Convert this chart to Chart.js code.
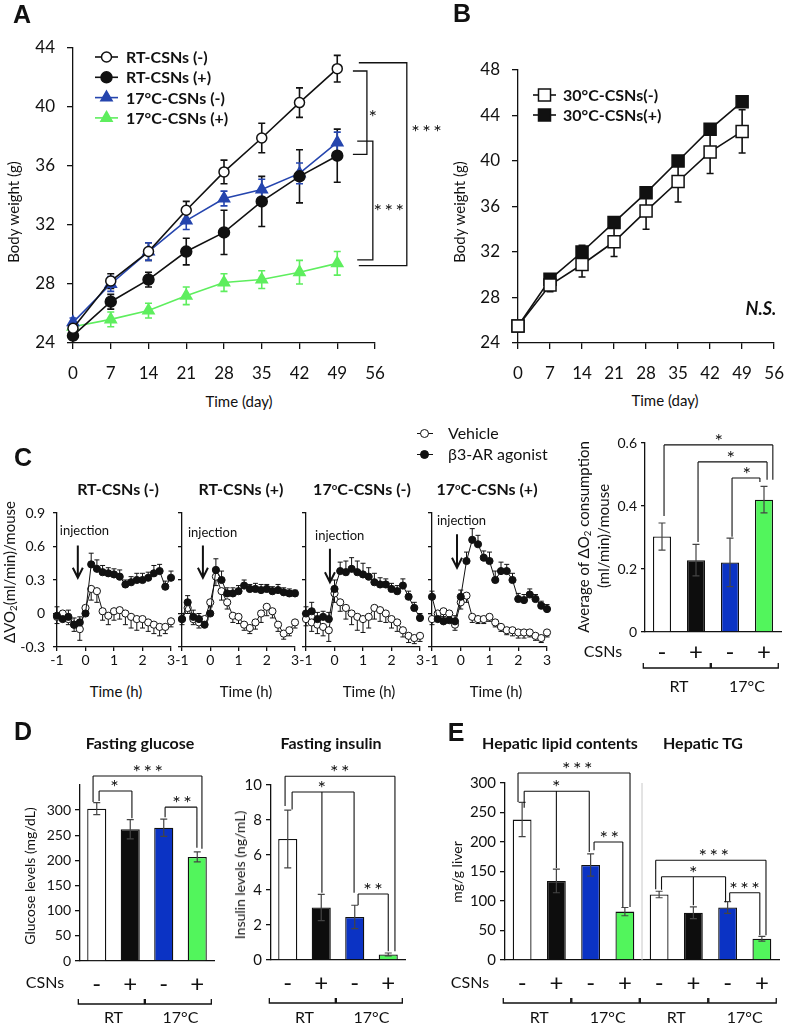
<!DOCTYPE html>
<html>
<head>
<meta charset="utf-8">
<script src="https://cdn.jsdelivr.net/npm/chart.js@4.4.1/dist/chart.umd.min.js"></script>
<style>
  body { margin: 0; width: 798px; height: 1025px; position: relative; overflow: hidden; background: #fff;
         font-family: Lato, "Open Sans", sans-serif; color: #111; }
  canvas { position: absolute; }
  .t { position: absolute; transform: translate(-50%, -50%); white-space: nowrap; line-height: 1; }
  .tl { position: absolute; transform: translate(0, -50%); white-space: nowrap; line-height: 1; }
  .r { transform: translate(-50%, -50%) rotate(-90deg); }
  .L { font: bold 25px "Liberation Sans", Arial, sans-serif; }
  .b { font-weight: bold; }
  sub { font-size: 0.65em; vertical-align: -0.25em; line-height: 0; }
  sup { font-size: 0.6em; vertical-align: 0.5em; line-height: 0; }
  .sym { position: absolute; height: 0; border-top: 1.3px solid #111; }
  .dot { position: absolute; width: 9px; height: 9px; border: 1.3px solid #111; border-radius: 50%; box-sizing: border-box; }
</style>
</head>
<body>
<div id="charts"></div>

<div class="t L" style="left:22px;top:14px">A</div>
<div class="t L" style="left:462px;top:13px">B</div>
<div class="t L" style="left:23px;top:457px">C</div>
<div class="t L" style="left:23px;top:731px">D</div>
<div class="t L" style="left:456px;top:732px">E</div>

<div class="t r" style="left:13px;top:212px;font-size:15px">Body weight (g)</div>
<div class="t r" style="left:459px;top:212px;font-size:15px">Body weight (g)</div>
<div class="t" style="left:239px;top:401px;font-size:15px">Time (day)</div>
<div class="t" style="left:665px;top:400px;font-size:15px">Time (day)</div>
<div class="t b" style="left:761px;top:308px;font-size:18px;font-style:italic">N.S.</div>

<div class="sym" style="left:417px;top:433px;width:16px"></div>
<div class="dot" style="left:420px;top:428.5px;background:#fff"></div>
<div class="tl" style="left:448px;top:433px;font-size:16px">Vehicle</div>
<div class="sym" style="left:417px;top:454px;width:16px"></div>
<div class="dot" style="left:420px;top:449.5px;background:#111"></div>
<div class="tl" style="left:448px;top:454px;font-size:16px">β3-AR agonist</div>

<div class="t b" style="left:118px;top:489px;font-size:16px">RT-CSNs (-)</div>
<div class="t b" style="left:241px;top:489px;font-size:16px">RT-CSNs (+)</div>
<div class="t b" style="left:362px;top:489px;font-size:16px">17<sup>o</sup>C-CSNs (-)</div>
<div class="t b" style="left:487px;top:489px;font-size:16px">17<sup>o</sup>C-CSNs (+)</div>
<div class="t" style="left:116px;top:691px;font-size:15px">Time (h)</div>
<div class="t" style="left:246px;top:691px;font-size:15px">Time (h)</div>
<div class="t" style="left:369px;top:691px;font-size:15px">Time (h)</div>
<div class="t" style="left:496px;top:691px;font-size:15px">Time (h)</div>
<div class="t r" style="left:9px;top:572px;font-size:15px">ΔVO<sub>2</sub>(ml/min)/mouse</div>
<div class="t r" style="left:583px;top:537px;font-size:15px">Average of ΔO<sub>2</sub> consumption</div>
<div class="t r" style="left:603px;top:536px;font-size:15px">(ml/min)/mouse</div>
<div class="t" style="left:603px;top:651px;font-size:16px">CSNs</div>

<div class="t b" style="left:140px;top:743px;font-size:16px">Fasting glucose</div>
<div class="t b" style="left:331px;top:743px;font-size:16px">Fasting insulin</div>
<div class="t r" style="left:30px;top:876px;font-size:14px">Glucose levels (mg/dL)</div>
<div class="t r" style="left:240px;top:875px;font-size:14px">Insulin levels (ng/mL)</div>
<div class="t" style="left:45px;top:982px;font-size:16px">CSNs</div>

<div class="t b" style="left:560px;top:743px;font-size:16px">Hepatic lipid contents</div>
<div class="t b" style="left:703px;top:743px;font-size:16px">Hepatic TG</div>
<div class="t r" style="left:457px;top:872px;font-size:14px">mg/g liver</div>
<div class="t" style="left:470px;top:982px;font-size:16px">CSNs</div>

<script>
// ---------- A / B: body weight ----------
const days = [0, 7, 14, 21, 28, 35, 42, 49];
const dayTicks = [0, 7, 14, 21, 28, 35, 42, 49, 56];
const weightTicksA = [24, 28, 32, 36, 40, 44];
const weightTicksB = [24, 28, 32, 36, 40, 44, 48];
const seriesA = ['RT-CSNs (-)', 'RT-CSNs (+)', '17°C-CSNs (-)', '17°C-CSNs (+)'];
const rtMinus = [25.0, 28.2, 30.2, 33.0, 35.6, 37.9, 40.3, 42.6];
const rtMinusErr = [0.4, 0.5, 0.6, 0.6, 0.8, 1.0, 1.0, 0.9];
const rtPlus = [24.5, 26.8, 28.3, 30.2, 31.5, 33.6, 35.3, 36.7];
const rtPlusErr = [0.3, 0.5, 0.5, 0.9, 1.5, 1.7, 1.8, 1.8];
const c17Minus = [25.4, 28.0, 30.2, 32.3, 33.8, 34.4, 35.5, 37.6];
const c17MinusErr = [0.3, 0.5, 0.6, 0.6, 0.5, 0.7, 0.7, 0.7];
const c17Plus = [25.1, 25.6, 26.2, 27.2, 28.1, 28.3, 28.8, 29.4];
const c17PlusErr = [0.3, 0.5, 0.5, 0.6, 0.6, 0.6, 0.8, 0.8];

const seriesB = ['30°C-CSNs(-)', '30°C-CSNs(+)'];
const c30Minus = [25.5, 29.1, 30.9, 32.9, 35.6, 38.2, 40.8, 42.6];
const c30MinusErr = [0.3, 0.6, 1.1, 1.3, 1.6, 1.8, 1.9, 1.9];
const c30Plus = [25.5, 29.6, 32.0, 34.6, 37.2, 40.0, 42.8, 45.2];
const c30PlusErr = [0.3, 0.4, 0.6, 0.5, 0.4, 0.3, 0.4, 0.2];

// significance brackets at the right of A (days / grams)
const bracketsA = [
  { x0: 51.9, x1: 54.5, top: 42.44, bottom: 36.79, tx: 55.8, ty: 39.6, text: '*' },
  { x0: 52.7, x1: 55.6, top: 37.69, bottom: 29.63, tx: 58.8, ty: 33.2, text: '***' },
  { x0: 53.0, x1: 61.9, top: 43.0, bottom: 29.24, tx: 65.8, ty: 38.6, text: '***' }
];

// ---------- C: VO2 time course ----------
const hours = [-1, -0.8, -0.6, -0.4, -0.2, 0, 0.2, 0.4, 0.6, 0.8, 1, 1.2, 1.4, 1.6, 1.8, 2, 2.2, 2.4, 2.6, 2.8, 3];
const hourTicks = [-1, 0, 1, 2, 3];
const vo2Ticks = [-0.3, 0, 0.3, 0.6, 0.9];
const injectionLabel = 'injection';

const agonistRTm = [-0.02, -0.05, -0.03, -0.10, -0.08, 0.00, 0.44, 0.40, 0.37, 0.36, 0.35, 0.33, 0.26, 0.28, 0.30, 0.30, 0.32, 0.36, 0.38, 0.24, 0.32];
const agonistRTmErr = [0.08, 0.07, 0.06, 0.06, 0.05, 0.05, 0.10, 0.08, 0.06, 0.05, 0.05, 0.06, 0.04, 0.05, 0.06, 0.06, 0.05, 0.07, 0.06, 0.05, 0.06];
const vehicleRTm = [-0.03, 0.00, -0.05, -0.10, -0.14, 0.05, 0.22, 0.20, 0.02, -0.02, 0.02, 0.03, 0.00, -0.03, -0.05, -0.05, -0.08, -0.10, -0.12, -0.12, -0.07];
const vehicleRTmErr = [0.06, 0.06, 0.05, 0.06, 0.10, 0.06, 0.10, 0.10, 0.08, 0.08, 0.08, 0.08, 0.10, 0.10, 0.10, 0.08, 0.08, 0.08, 0.08, 0.06, 0.05];

const agonistRTp = [-0.05, 0.10, -0.03, -0.05, -0.10, 0.00, 0.39, 0.30, 0.18, 0.18, 0.20, 0.25, 0.22, 0.22, 0.21, 0.22, 0.20, 0.21, 0.19, 0.18, 0.18];
const agonistRTpErr = [0.05, 0.06, 0.06, 0.05, 0.05, 0.06, 0.10, 0.08, 0.05, 0.05, 0.05, 0.05, 0.04, 0.05, 0.05, 0.04, 0.04, 0.05, 0.04, 0.04, 0.03];
const vehicleRTp = [-0.05, 0.05, -0.05, -0.08, -0.05, 0.10, 0.33, 0.20, 0.10, -0.02, -0.03, -0.10, -0.13, -0.08, 0.00, 0.06, 0.02, -0.10, -0.18, -0.15, -0.08];
const vehicleRTpErr = [0.05, 0.05, 0.05, 0.05, 0.05, 0.08, 0.08, 0.08, 0.06, 0.06, 0.06, 0.05, 0.05, 0.06, 0.08, 0.08, 0.06, 0.06, 0.05, 0.05, 0.05];

const agonist17m = [0.00, 0.02, -0.05, -0.03, -0.05, 0.22, 0.38, 0.37, 0.40, 0.37, 0.35, 0.33, 0.28, 0.26, 0.26, 0.22, 0.20, 0.25, 0.15, 0.05, -0.04];
const agonist17mErr = [0.06, 0.08, 0.06, 0.05, 0.06, 0.08, 0.08, 0.10, 0.10, 0.10, 0.10, 0.08, 0.08, 0.06, 0.05, 0.05, 0.05, 0.06, 0.05, 0.05, 0.04];
const vehicle17m = [-0.05, -0.08, -0.10, -0.12, -0.15, 0.18, 0.10, 0.05, 0.00, -0.03, -0.05, -0.03, 0.05, 0.03, 0.00, -0.05, -0.08, -0.15, -0.20, -0.22, -0.20];
const vehicle17mErr = [0.06, 0.08, 0.08, 0.08, 0.10, 0.08, 0.08, 0.10, 0.10, 0.12, 0.12, 0.10, 0.10, 0.10, 0.08, 0.08, 0.08, 0.06, 0.06, 0.05, 0.05];

const agonist17p = [0.15, -0.05, -0.07, -0.06, -0.07, 0.15, 0.47, 0.66, 0.62, 0.50, 0.47, 0.30, 0.38, 0.38, 0.30, 0.13, 0.12, 0.17, 0.13, 0.07, 0.04];
const agonist17pErr = [0.05, 0.05, 0.04, 0.04, 0.05, 0.06, 0.08, 0.10, 0.08, 0.06, 0.08, 0.08, 0.08, 0.06, 0.06, 0.05, 0.05, 0.05, 0.04, 0.04, 0.04];
const vehicle17p = [-0.05, 0.00, 0.02, 0.00, -0.10, 0.10, 0.16, -0.03, -0.05, -0.05, -0.03, -0.08, -0.12, -0.15, -0.15, -0.17, -0.17, -0.17, -0.20, -0.22, -0.17];
const vehicle17pErr = [0.05, 0.05, 0.05, 0.05, 0.05, 0.06, 0.06, 0.05, 0.04, 0.04, 0.04, 0.04, 0.04, 0.04, 0.05, 0.05, 0.05, 0.04, 0.04, 0.04, 0.04];

// arrow (t, from, to) and label position (tt, tv) per sub panel
const injections = [
  { t: -0.27, from: 0.61, to: 0.32, tt: -0.9, tv: 0.74 },
  { t: -0.26, from: 0.61, to: 0.32, tt: -0.79, tv: 0.72 },
  { t: -0.16, from: 0.58, to: 0.28, tt: -0.68, tv: 0.70 },
  { t: -0.13, from: 0.71, to: 0.41, tt: -0.83, tv: 0.83 }
];

// C right: average O2
const csnsSigns = ['-', '+', '-', '+'];
const tempGroups = ['RT', '17°C'];
const o2Ticks = [0, 0.2, 0.4, 0.6];
const o2Avg = [0.303, 0.228, 0.221, 0.420];
const o2Err = [0.043, 0.050, 0.077, 0.042];
const bracketsO2 = [
  { legs: [[0.06, 0.368], [3.26, 0.483]], y: 0.594, at: 1.68, text: '*' },
  { legs: [[1.06, 0.286], [3.09, 0.483]], y: 0.540, at: 2.03, text: '*' },
  { legs: [[2.06, 0.302], [2.88, 0.476]], y: 0.489, at: 2.50, text: '*' }
];

// ---------- D ----------
const glucoseTicks = [0, 50, 100, 150, 200, 250, 300];
const glucose = [303, 262, 265, 207];
const glucoseErr = [12, 19, 17, 10];
const bracketsGlucose = [
  { legs: [[-0.11, 316], [3.14, 223]], y: 368, at: 1.53, text: '***' },
  { legs: [[0.07, 318], [1.05, 284]], y: 338, at: 0.54, text: '*' },
  { legs: [[2.04, 286], [2.99, 225]], y: 306, at: 2.55, text: '**' }
];
const insulinTicks = [0, 2, 4, 6, 8, 10];
const insulin = [6.92, 3.0, 2.46, 0.32];
const insulinErr = [1.65, 0.75, 0.67, 0.08];
const bracketsInsulin = [
  { legs: [[-0.08, 8.8], [3.2, 0.5]], y: 10.5, at: 1.56, text: '**' },
  { legs: [[0.13, 8.6], [1.02, 3.85], [1.98, 3.85]], y: 9.6, at: 1.02, text: '*' },
  { legs: [[2.1, 3.15], [3.0, 0.5]], y: 3.77, at: 2.55, text: '**' }
];

// ---------- E ----------
const liverTicks = [0, 50, 100, 150, 200, 250, 300];
const lipid = [238, 134, 161, 82];
const lipidErr = [29, 20, 19, 7];
const tg = [111, 80, 89, 36];
const tgErr = [5.5, 10, 10, 4];
const bracketsLiver = [
  { legs: [[-0.12, 268], [3.15, 90]], y: 317, at: 1.62, text: '***' },
  { legs: [[0.06, 258], [1.0, 156], [1.96, 183]], y: 286, at: 1.0, text: '*' },
  { legs: [[2.1, 186], [2.94, 90]], y: 200, at: 2.55, text: '**' },
  { legs: [[3.9, 120], [7.12, 42]], y: 169, at: 5.6, text: '***' },
  { legs: [[4.07, 119], [5.0, 93], [5.94, 98]], y: 141, at: 5.0, text: '*' },
  { legs: [[6.06, 100], [6.94, 42]], y: 114, at: 6.5, text: '***' }
];

const barColors = ['#ffffff', '#0d0d0d', '#0b33c4', '#52f55c'];

// ---------- chart setup ----------
Chart.defaults.font.family = 'Lato, "Open Sans", sans-serif';
Chart.defaults.color = '#111';
Chart.defaults.animation = false;
Chart.defaults.events = [];
Chart.defaults.plugins.legend.display = false;
Chart.defaults.plugins.tooltip.enabled = false;

const extras = {};

function drawErrors(chart) {
  const ctx = chart.ctx, ys = chart.scales.y;
  chart.data.datasets.forEach((ds, di) => {
    if (!ds.errors) return;
    const pts = chart.getDatasetMeta(di).data;
    ctx.save();
    ctx.strokeStyle = ds.errColor || ds.borderColor;
    ctx.lineWidth = ds.errWidth || 1.5;
    pts.forEach((p, i) => {
      const raw = ds.data[i];
      const v = typeof raw === 'object' ? raw.y : raw;
      const e = ds.errors[i];
      const up = ds.errDir !== 'down', dn = ds.errDir !== 'up';
      const yt = ys.getPixelForValue(up ? v + e : v);
      const yb = ys.getPixelForValue(dn ? v - e : v);
      const c = ds.errCap || 3;
      ctx.beginPath();
      ctx.moveTo(p.x, yt); ctx.lineTo(p.x, yb);
      if (up) { ctx.moveTo(p.x - c, yt); ctx.lineTo(p.x + c, yt); }
      if (dn) { ctx.moveTo(p.x - c, yb); ctx.lineTo(p.x + c, yb); }
      ctx.stroke();
    });
    ctx.restore();
  });
}

function starFont(ctx) {
  ctx.font = '20px Lato';
  ctx.textAlign = 'center';
  ctx.textBaseline = 'alphabetic';
  ctx.letterSpacing = '2.5px';
}

function drawLegend(chart, L) {
  const ctx = chart.ctx, ox = chart.canvas.offsetLeft, oy = chart.canvas.offsetTop;
  ctx.save();
  ctx.font = 'bold 16px Lato';
  ctx.textBaseline = 'middle';
  ctx.textAlign = 'left';
  chart.data.datasets.forEach((ds, i) => {
    const y = L.y + i * L.dy - oy, x0 = L.x - ox;
    ctx.strokeStyle = ds.borderColor; ctx.lineWidth = ds.borderWidth;
    ctx.beginPath(); ctx.moveTo(x0, y); ctx.lineTo(x0 + L.w, y); ctx.stroke();
    ctx.fillStyle = ds.pointBackgroundColor; ctx.strokeStyle = ds.pointBorderColor; ctx.lineWidth = ds.pointBorderWidth;
    Chart.helpers.drawPoint(ctx, { pointStyle: ds.pointStyle, rotation: 0, radius: ds.pointRadius, borderWidth: ds.pointBorderWidth }, x0 + L.w / 2, y);
    ctx.fillStyle = '#111';
    ctx.fillText(ds.label, L.tx - ox, y + 1);
  });
  ctx.restore();
}

function drawSide(chart, list) {
  const ctx = chart.ctx, xs = chart.scales.x, ys = chart.scales.y;
  ctx.save();
  ctx.strokeStyle = '#111'; ctx.fillStyle = '#111'; ctx.lineWidth = 1.3;
  starFont(ctx);
  list.forEach(b => {
    const x0 = xs.getPixelForValue(b.x0), x1 = xs.getPixelForValue(b.x1);
    const yt = ys.getPixelForValue(b.top), yb = ys.getPixelForValue(b.bottom);
    ctx.beginPath();
    ctx.moveTo(x0, yt); ctx.lineTo(x1, yt); ctx.lineTo(x1, yb); ctx.lineTo(x0, yb);
    ctx.stroke();
    ctx.fillText(b.text, xs.getPixelForValue(b.tx), ys.getPixelForValue(b.ty) + 11);
  });
  ctx.restore();
}

function drawBrackets(chart, list) {
  const ctx = chart.ctx, xs = chart.scales.x, ys = chart.scales.y;
  ctx.save();
  ctx.strokeStyle = '#111'; ctx.fillStyle = '#111'; ctx.lineWidth = 1.1;
  starFont(ctx);
  list.forEach(b => {
    const y = ys.getPixelForValue(b.y);
    const px = b.legs.map(l => xs.getPixelForValue(l[0]));
    ctx.beginPath();
    ctx.moveTo(px[0], y); ctx.lineTo(px[px.length - 1], y);
    b.legs.forEach((l, k) => { ctx.moveTo(px[k], y); ctx.lineTo(px[k], ys.getPixelForValue(l[1])); });
    ctx.stroke();
    ctx.fillText(b.text, xs.getPixelForValue(b.at) + 1, y + 3);
  });
  ctx.restore();
}

function drawGroups(chart, g) {
  const ctx = chart.ctx, xs = chart.scales.x, bottom = chart.chartArea.bottom;
  const y = bottom + g.lineOff;
  ctx.save();
  ctx.strokeStyle = '#111'; ctx.fillStyle = '#111'; ctx.lineWidth = 1.3;
  ctx.font = '16px Lato'; ctx.textAlign = 'center'; ctx.textBaseline = 'middle';
  g.list.forEach(it => {
    const a = xs.getPixelForValue(it.from - 0.55), b = xs.getPixelForValue(it.to + 0.42);
    ctx.beginPath();
    ctx.moveTo(a, y - 5); ctx.lineTo(a, y); ctx.lineTo(b, y); ctx.lineTo(b, y - 5);
    ctx.stroke();
    ctx.fillText(it.text, xs.getPixelForValue((it.from + it.to) / 2), bottom + g.textOff);
  });
  ctx.restore();
}

function drawInjection(chart, o) {
  const ctx = chart.ctx, xs = chart.scales.x, ys = chart.scales.y;
  const x = xs.getPixelForValue(o.t), y0 = ys.getPixelForValue(o.from), y1 = ys.getPixelForValue(o.to);
  ctx.save();
  ctx.strokeStyle = '#111'; ctx.fillStyle = '#111'; ctx.lineWidth = 2;
  ctx.beginPath();
  ctx.moveTo(x, y0); ctx.lineTo(x, y1);
  ctx.moveTo(x - 5, y1 - 10); ctx.lineTo(x, y1); ctx.lineTo(x + 5, y1 - 10);
  ctx.stroke();
  ctx.font = '13px Lato'; ctx.textAlign = 'left'; ctx.textBaseline = 'middle';
  ctx.fillText(injectionLabel, xs.getPixelForValue(o.tt), ys.getPixelForValue(o.tv));
  ctx.restore();
}

function drawSep(chart, at) {
  const ctx = chart.ctx, x = chart.scales.x.getPixelForValue(at);
  ctx.save();
  ctx.strokeStyle = '#c8c8c8'; ctx.lineWidth = 1;
  ctx.beginPath(); ctx.moveTo(x, chart.chartArea.top); ctx.lineTo(x, chart.chartArea.bottom); ctx.stroke();
  ctx.restore();
}

Chart.register({
  id: 'annotate',
  beforeDatasetsDraw(chart) { if (chart.config.type === 'line') drawErrors(chart); },
  afterDatasetsDraw(chart) { if (chart.config.type === 'bar') drawErrors(chart); },
  afterDraw(chart) {
    const ex = extras[chart.canvas.id];
    if (!ex) return;
    if (ex.sep !== undefined) drawSep(chart, ex.sep);
    if (ex.legend) drawLegend(chart, ex.legend);
    if (ex.side) drawSide(chart, ex.side);
    if (ex.brackets) drawBrackets(chart, ex.brackets);
    if (ex.groups) drawGroups(chart, ex.groups);
    if (ex.injection) drawInjection(chart, ex.injection);
  }
});

// plot = chart area on the page, m = room around it inside the canvas
function makeChart(id, plot, m, config) {
  const cv = document.createElement('canvas');
  cv.id = id;
  const w = plot.r - plot.l + m.l + m.r, h = plot.b - plot.t + m.t + m.b;
  cv.width = w; cv.height = h;
  cv.style.left = (plot.l - m.l) + 'px';
  cv.style.top = (plot.t - m.t) + 'px';
  cv.style.width = w + 'px';
  cv.style.height = h + 'px';
  document.getElementById('charts').appendChild(cv);
  config.options.responsive = false;
  config.options.devicePixelRatio = 1;
  config.options.layout = { padding: { left: 0, top: m.t, right: m.r, bottom: 0 } };
  config.options.scales.x.afterFit = s => { s.height = m.b; };
  config.options.scales.y.afterFit = s => { s.width = m.l; };
  return new Chart(cv, config);
}

function linAxis(min, max, list, size, tickLen, pad, labels) {
  return {
    type: 'linear', min: min, max: max,
    afterBuildTicks: s => { s.ticks = list.map(v => ({ value: v })); },
    border: { display: true, color: '#111', width: 1.3 },
    grid: { drawOnChartArea: false, drawTicks: true, tickLength: tickLen, color: '#111', lineWidth: 1.3 },
    ticks: { display: labels !== false, font: { size: size }, padding: pad, color: '#111' }
  };
}

function catAxis(size, pad) {
  return {
    type: 'category',
    border: { display: true, color: '#111', width: 1.3 },
    grid: { drawOnChartArea: false, drawTicks: false },
    ticks: { font: { size: size }, padding: pad, color: '#111', autoSkip: false, maxRotation: 0 }
  };
}

function pts(xs, ys) { return xs.map((x, i) => ({ x: x, y: ys[i] })); }

function weightSet(label, vals, errs, color, style, radius, fill) {
  return {
    label: label, data: pts(days, vals), errors: errs, errDir: 'both',
    borderColor: color, borderWidth: 1.6, errColor: color, errWidth: 1.6, errCap: 3.5,
    pointStyle: style, pointRadius: radius, pointBackgroundColor: fill,
    pointBorderColor: color, pointBorderWidth: 1.5, clip: false
  };
}

// ---- A ----
extras.chA = { legend: { x: 95, w: 23, tx: 126, y: 57, dy: 20.3 }, side: bracketsA };
makeChart('chA', { l: 73, t: 48, r: 375, b: 343 }, { l: 73, t: 48, r: 70, b: 45 }, {
  type: 'line',
  data: { datasets: [
    weightSet(seriesA[0], rtMinus, rtMinusErr, '#111', 'circle', 5, '#fff'),
    weightSet(seriesA[1], rtPlus, rtPlusErr, '#111', 'circle', 5.5, '#111'),
    weightSet(seriesA[2], c17Minus, c17MinusErr, '#2545ae', 'triangle', 6.5, '#2545ae'),
    weightSet(seriesA[3], c17Plus, c17PlusErr, '#5eee5e', 'triangle', 6.5, '#5eee5e')
  ] },
  options: { scales: { x: linAxis(0, 56, dayTicks, 17, 6, 14), y: linAxis(24, 44, weightTicksA, 17, 6, 12) } }
});

// ---- B ----
extras.chB = { legend: { x: 533, w: 23, tx: 563, y: 95, dy: 20 } };
makeChart('chB', { l: 518, t: 70, r: 788, b: 343 }, { l: 50, t: 70, r: 10, b: 45 }, {
  type: 'line',
  data: { datasets: [
    weightSet(seriesB[0], c30Minus, c30MinusErr, '#111', 'rect', 8.5, '#fff'),
    weightSet(seriesB[1], c30Plus, c30PlusErr, '#111', 'rect', 8.5, '#111')
  ] },
  options: { scales: { x: linAxis(0, 56, dayTicks, 17, 6, 14), y: linAxis(24, 48, weightTicksB, 17, 6, 12) } }
});

// ---- C time courses ----
const subPlots = [[57, 171], [182, 295], [306, 420], [432, 547]];
const agonistSeries = [agonistRTm, agonistRTp, agonist17m, agonist17p];
const agonistErrs = [agonistRTmErr, agonistRTpErr, agonist17mErr, agonist17pErr];
const vehicleSeries = [vehicleRTm, vehicleRTp, vehicle17m, vehicle17p];
const vehicleErrs = [vehicleRTmErr, vehicleRTpErr, vehicle17mErr, vehicle17pErr];

function vo2Set(vals, errs, dir, fill) {
  return {
    data: pts(hours, vals), errors: errs, errDir: dir, errColor: '#111', errWidth: 1, errCap: 2.5,
    borderColor: '#111', borderWidth: 1, pointRadius: 3.6, pointBackgroundColor: fill,
    pointBorderColor: '#111', pointBorderWidth: 1, clip: false
  };
}

subPlots.forEach((lr, k) => {
  extras['chC' + k] = { injection: injections[k] };
  makeChart('chC' + k, { l: lr[0], t: 513, r: lr[1], b: 647 }, { l: k === 0 ? 50 : 12, t: 30, r: 10, b: 25 }, {
    type: 'line',
    data: { datasets: [
      vo2Set(agonistSeries[k], agonistErrs[k], 'up', '#111'),
      vo2Set(vehicleSeries[k], vehicleErrs[k], 'down', '#fff')
    ] },
    options: { scales: {
      x: linAxis(-1, 3, hourTicks, 14, 4, 1),
      y: linAxis(-0.3, 0.9, vo2Ticks, 14, 4, 8, k === 0)
    } }
  });
});

// ---- bar charts ----
function barSet(vals, errs, colors, pct) {
  return {
    data: vals, errors: errs, errDir: 'both', errColor: '#444', errWidth: 1.2, errCap: 3.5,
    backgroundColor: colors, borderColor: '#111', borderWidth: 1.3,
    barPercentage: pct, categoryPercentage: 1
  };
}
const groups4 = [{ from: 0, to: 1, text: tempGroups[0] }, { from: 2, to: 3, text: tempGroups[1] }];
const groups8 = groups4.concat([{ from: 4, to: 5, text: tempGroups[0] }, { from: 6, to: 7, text: tempGroups[1] }]);

extras.chO2 = { brackets: bracketsO2, groups: { list: groups4, lineOff: 36, textOff: 55 } };
makeChart('chO2', { l: 645, t: 443, r: 781, b: 632 }, { l: 40, t: 30, r: 15, b: 65 }, {
  type: 'bar',
  data: { labels: csnsSigns, datasets: [barSet(o2Avg, o2Err, barColors, 0.53)] },
  options: { scales: { x: catAxis(24, 6), y: linAxis(0, 0.6, o2Ticks, 14, 4, 4) } }
});

extras.chGlu = { brackets: bracketsGlucose, groups: { list: groups4, lineOff: 43, textOff: 57 } };
makeChart('chGlu', { l: 80, t: 785, r: 214, b: 961 }, { l: 40, t: 40, r: 10, b: 64 }, {
  type: 'bar',
  data: { labels: csnsSigns, datasets: [barSet(glucose, glucoseErr, barColors, 0.57)] },
  options: { scales: { x: catAxis(24, 9), y: linAxis(0, 350, glucoseTicks, 14, 5, 4) } }
});

extras.chIns = { brackets: bracketsInsulin, groups: { list: groups4, lineOff: 43, textOff: 58 } };
makeChart('chIns', { l: 271, t: 785, r: 405, b: 960 }, { l: 30, t: 40, r: 10, b: 65 }, {
  type: 'bar',
  data: { labels: csnsSigns, datasets: [barSet(insulin, insulinErr, barColors, 0.57)] },
  options: { scales: { x: catAxis(24, 9), y: linAxis(0, 10, insulinTicks, 15, 5, 4) } }
});

extras.chLiv = { sep: 3.5, brackets: bracketsLiver, groups: { list: groups8, lineOff: 43, textOff: 58 } };
makeChart('chLiv', { l: 505, t: 783, r: 779, b: 960 }, { l: 50, t: 40, r: 15, b: 65 }, {
  type: 'bar',
  data: { labels: csnsSigns.concat(csnsSigns),
          datasets: [barSet(lipid.concat(tg), lipidErr.concat(tgErr), barColors.concat(barColors), 0.55)] },
  options: { scales: { x: catAxis(24, 9), y: linAxis(0, 300, liverTicks, 15, 5, 4) } }
});
</script>
</body>
</html>
